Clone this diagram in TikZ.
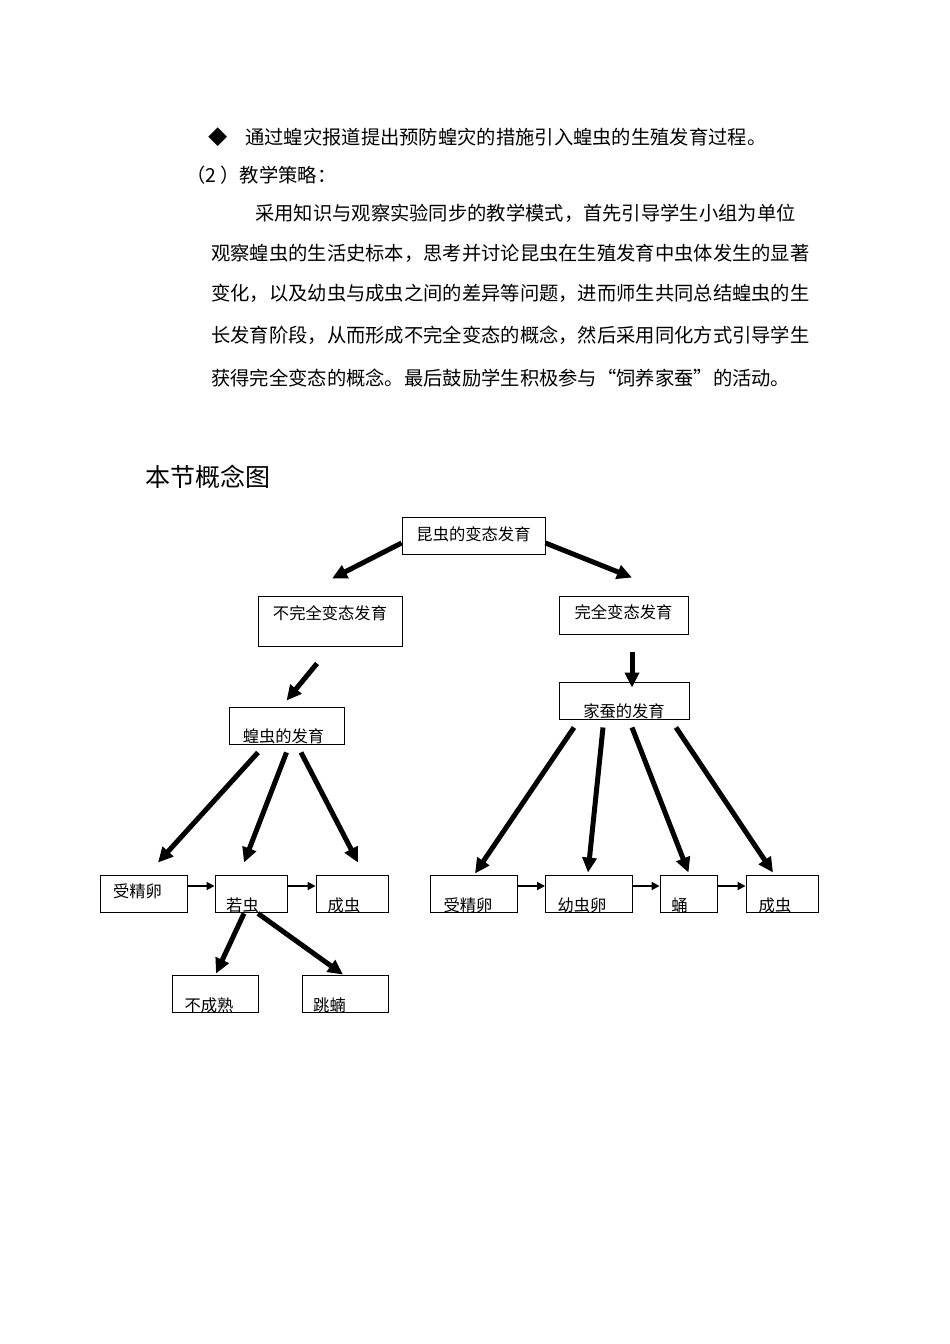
\documentclass[tikz,border=0pt]{standalone}
\usepackage{fontspec}
\setmainfont{Noto Sans CJK SC}
\usepackage{tikz}
\usetikzlibrary{arrows.meta}
\tikzset{
box/.style={draw, line width=0.9pt, inner sep=0pt, minimum height=37pt},
tag/.style={font=\fontsize{16.3}{18}\selectfont, inner sep=0pt},
fat/.style={-{Triangle[length=15pt,width=14pt]}, line width=5pt},
thin/.style={-{Triangle[length=8pt,width=8pt]}, line width=1.8pt},
body/.style={anchor=west, inner sep=0pt, font=\fontsize{19.3}{21}\selectfont},
}

\begin{document}
\begin{tikzpicture}[x=1pt,y=-1pt]
\useasboundingbox[fill=white] (0,0) rectangle (950,1344);
% the text above
\node[body, anchor=center] (bullet) at (218,137) {◆};
\node[body] (line1) at (245,137) {通过蝗灾报道提出预防蝗灾的措施引入蝗虫的生殖发育过程。};
\node[body] (line2) at (186,175) {（2 ）教学策略：};
\foreach \x/\y/\t [count=\i from 3] in {
  255/213/采用知识与观察实验同步的教学模式，首先引导学生小组为单位,
  211/253/观察蝗虫的生活史标本，思考并讨论昆虫在生殖发育中虫体发生的显著,
  211/293/变化，以及幼虫与成虫之间的差异等问题，进而师生共同总结蝗虫的生,
  211/335/长发育阶段，从而形成不完全变态的概念，然后采用同化方式引导学生,
  211/378/获得完全变态的概念。最后鼓励学生积极参与“饲养家蚕”的活动。}
{
  \node[body] (line\i) at (\x,\y) {\t};
}
\node[body, font=\fontsize{25}{27}\selectfont] (title) at (145,477) {本节概念图};
% the boxes
\node[box, minimum width=143pt, label={[tag,yshift=1.5pt]center:昆虫的变态发育}] (insect) at (473.5,535.5) {};
\node[box, minimum width=144pt, minimum height=50pt, label={[tag,yshift=8pt]center:不完全变态发育}] (incomp) at (330,621) {};
\node[box, minimum width=129pt, minimum height=38pt, label={[tag,yshift=3pt]center:完全变态发育}] (comp) at (623.5,615) {};
\node[box, minimum width=115pt, label={[tag,xshift=-3pt,yshift=-10.5pt]center:蝗虫的发育}] (locust) at (286.5,725.5) {};
\node[box, minimum width=130pt, label={[tag,yshift=-10.5pt]center:家蚕的发育}] (silk) at (624,700.5) {};
\node[box, minimum width=87pt, label={[tag,xshift=-6pt,yshift=2pt]center:受精卵}] (legg) at (143.5,893.5) {};
\node[box, minimum width=72pt, label={[tag,xshift=-8.5pt,yshift=-11.5pt]center:若虫}] (nymph) at (251,893.5) {};
\node[box, minimum width=72pt, label={[tag,xshift=-8pt,yshift=-11.5pt]center:成虫}] (ladult) at (352,893.5) {};
\node[box, minimum width=86pt, label={[tag,xshift=-6pt,yshift=-11.5pt]center:不成熟}] (immat) at (215,993.5) {};
\node[box, minimum width=86pt, label={[tag,xshift=-15.5pt,yshift=-11.5pt]center:跳蝻}] (hopper) at (345,993.5) {};
\node[box, minimum width=87pt, label={[tag,xshift=-5.5pt,yshift=-11.5pt]center:受精卵}] (segg) at (473.5,893.5) {};
\node[box, minimum width=87pt, label={[tag,xshift=-7pt,yshift=-11.5pt]center:幼虫卵}] (larva) at (589,893.5) {};
\node[box, minimum width=57pt, label={[tag,xshift=-9pt,yshift=-11.5pt]center:蛹}] (pupa) at (688.5,893.5) {};
\node[box, minimum width=72pt, label={[tag,xshift=-7pt,yshift=-11.5pt]center:成虫}] (sadult) at (782,893.5) {};
% the arrows
\draw[fat] ([yshift=-7.5pt]insect.west) -- ([xshift=2pt,yshift=17pt]incomp.north);
\draw[fat] ([yshift=-7.5pt]insect.east) -- ([xshift=8.5pt,yshift=18pt]comp.north);
\draw[fat] ([xshift=-13pt,yshift=-17pt]incomp.south) -- ([yshift=6pt]locust.north);
\draw[fat] ([xshift=8.5pt,yshift=-18pt]comp.south) -- ([xshift=8pt,yshift=-6pt]silk.north);
\draw[fat] ([xshift=-28.5pt,yshift=-8pt]locust.south) -- ([xshift=14.5pt,yshift=12pt]legg.north);
\draw[fat] ([yshift=-8pt]locust.south) -- ([xshift=-7pt,yshift=12pt]nymph.north);
\draw[fat] ([xshift=14.5pt,yshift=-8pt]locust.south) -- ([xshift=6pt,yshift=12pt]ladult.north);
\draw[fat] ([xshift=-7pt,yshift=-1pt]nymph.south) -- ([xshift=1pt,yshift=1pt]immat.north);
\draw[fat] ([xshift=7pt,yshift=-1pt]nymph.south) -- ([xshift=-2pt]hopper.north);
\draw[fat] ([xshift=-50pt,yshift=-8pt]silk.south) -- ([xshift=1.5pt,yshift=1pt]segg.north);
\draw[fat] ([xshift=-21pt,yshift=-8pt]silk.south) -- ([xshift=-1pt,yshift=2pt]larva.north);
\draw[fat] ([xshift=8pt,yshift=-8pt]silk.south) -- ([yshift=2pt]pupa.north);
\draw[fat] ([xshift=52pt,yshift=-8pt]silk.south) -- ([xshift=-9pt,yshift=2pt]sadult.north);
\foreach \a/\b in {legg/nymph, nymph/ladult, segg/larva, larva/pupa, pupa/sadult}
{
  \draw[thin] ([yshift=7.5pt]\a.east) -- ([yshift=7.5pt]\b.west);
}
\end{tikzpicture}
\end{document}
